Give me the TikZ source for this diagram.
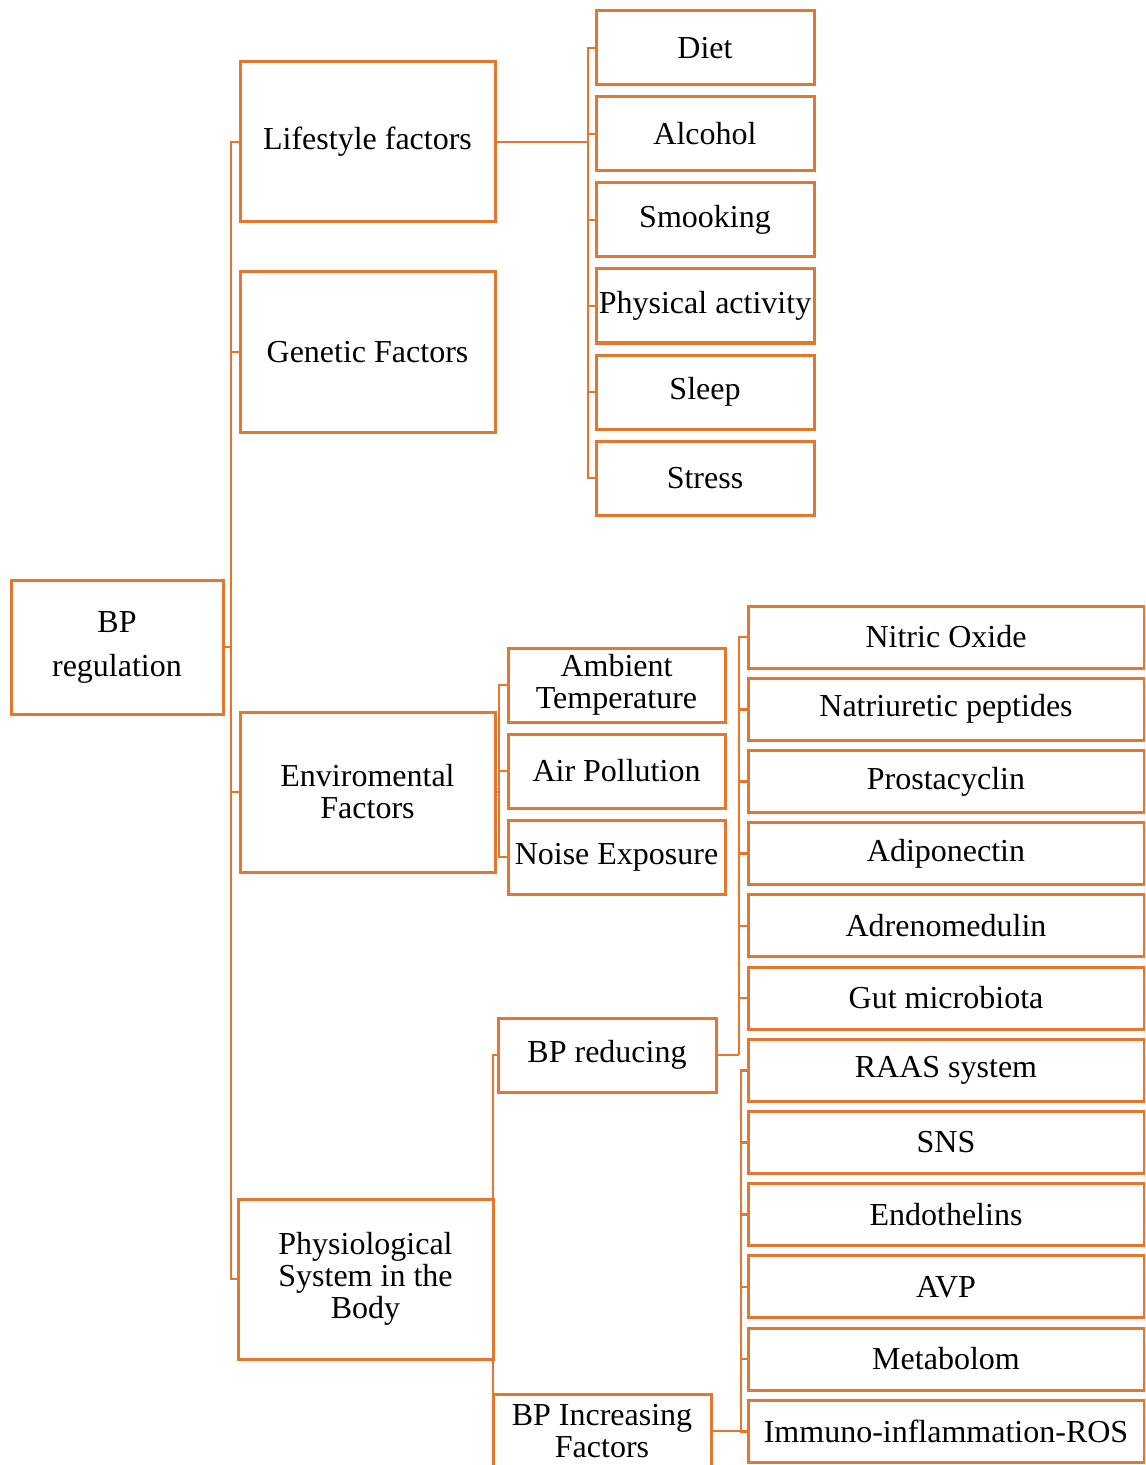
\documentclass[tikz,border=0pt]{standalone}
\usepackage{fontspec}
\setmainfont{Liberation Serif}
\usetikzlibrary{positioning}
\definecolor{bporange}{RGB}{228,118,45}

\begin{document}
\begin{tikzpicture}[
    x=0.5pt, y=-0.5pt,
    node distance = 6pt,
    box/.style      = {draw=bporange, line width=1.5pt, outer sep=0pt,
                       inner sep=1pt, align=center,
                       font=\fontsize{16}{16}\selectfont},
    mainbox/.style  = {box, minimum width=127.5pt, minimum height=80pt},
    leafbox/.style  = {box, minimum width=109pt, minimum height=37pt},
    widebox/.style  = {box, minimum width=198pt, minimum height=31pt},
    link/.style     = {draw=bporange, line width=1.3pt}
]
\useasboundingbox (0,0) rectangle (1145,1465);
\clip (0,0) rectangle (1145,1465);

% =========================================================
% ROOT
% =========================================================
\node[box, minimum width=106pt, minimum height=67pt] (bp) at (117,647) {BP\\[6pt]regulation};

% =========================================================
% MAIN FACTORS
% =========================================================
\node[mainbox] (life) at (367.5,142)  {Lifestyle factors};
\node[mainbox] (gene) at (367.5,352)  {Genetic Factors};
\node[mainbox] (env)  at (367.5,792)  {Enviromental\\Factors};
\node[mainbox] (phys) at (365.5,1279) {Physiological\\System in the\\Body};

% =========================================================
% LIFESTYLE
% =========================================================
\node[leafbox] (diet) at (705,48) {Diet};
\node[leafbox, below=of diet]    (alcohol)  {Alcohol};
\node[leafbox, below=of alcohol] (smoke)    {Smooking};
\node[leafbox, below=of smoke]   (activity) {Physical activity};
\node[leafbox, below=of activity] (sleep)   {Sleep};
\node[leafbox, below=of sleep]   (stress)   {Stress};

% =========================================================
% ENVIRONMENT
% =========================================================
\node[leafbox, minimum width=108.5pt] (temp) at (616.5,685) {Ambient\\Temperature};
\node[leafbox, minimum width=108.5pt, below=of temp] (air)   {Air Pollution};
\node[leafbox, minimum width=108.5pt, below=of air]  (noise) {Noise Exposure};

% =========================================================
% PHYSIOLOGICAL
% =========================================================
\node[leafbox] (red) at (607,1055) {BP reducing};
\node[leafbox] (inc) at (602,1431) {BP Increasing\\Factors};

\node[widebox] (no) at (946,637) {Nitric Oxide};
\node[widebox, below=5.1pt of no]    (np)    {Natriuretic peptides};
\node[widebox, below=5.1pt of np]    (pgi)   {Prostacyclin};
\node[widebox, below=5.1pt of pgi]   (adipo) {Adiponectin};
\node[widebox, below=5.1pt of adipo] (adm)   {Adrenomedulin};
\node[widebox, below=5.1pt of adm]   (gut)   {Gut microbiota};
\node[widebox, below=5.1pt of gut]   (raas)  {RAAS system};
\node[widebox, below=5.1pt of raas]  (sns)   {SNS};
\node[widebox, below=5.1pt of sns]   (et)    {Endothelins};
\node[widebox, below=5.1pt of et]    (avp)   {AVP};
\node[widebox, below=5.1pt of avp]   (meta)  {Metabolom};
\node[widebox, below=5.1pt of meta]  (ros)   {Immuno-inflammation-ROS};

% =========================================================
% CONNECTORS
% =========================================================
\coordinate (trunk)   at (231,647);
\coordinate (lifebar) at (588,142);
\coordinate (envbar)  at (499,792);
\coordinate (physbar) at (493,1279);
\coordinate (redbar)  at (739,1055);
\coordinate (incbar)  at (741,1431);

\draw[link] (bp.east) -- (trunk);
\foreach \n in {life,gene,env,phys}
  \draw[link] (trunk) |- (\n.west);

\draw[link] (life.east) -- (lifebar);
\foreach \n in {diet,alcohol,smoke,activity,sleep,stress}
  \draw[link] (lifebar) |- (\n.west);

\draw[link] (env.east) -- (envbar);
\foreach \n in {temp,air,noise}
  \draw[link] (envbar) |- (\n.west);

\draw[link] (physbar) |- (red.west);
\draw[link] (physbar) |- (inc.west);

\draw[link] (red.east) -- (redbar);
\foreach \n in {no,np,pgi,adipo,adm,gut}
  \draw[link] (redbar) |- (\n.west);

\draw[link] (inc.east) -- (incbar);
\foreach \n in {raas,sns,et,avp,meta,ros}
  \draw[link] (incbar) |- (\n.west);

\end{tikzpicture}
\end{document}
